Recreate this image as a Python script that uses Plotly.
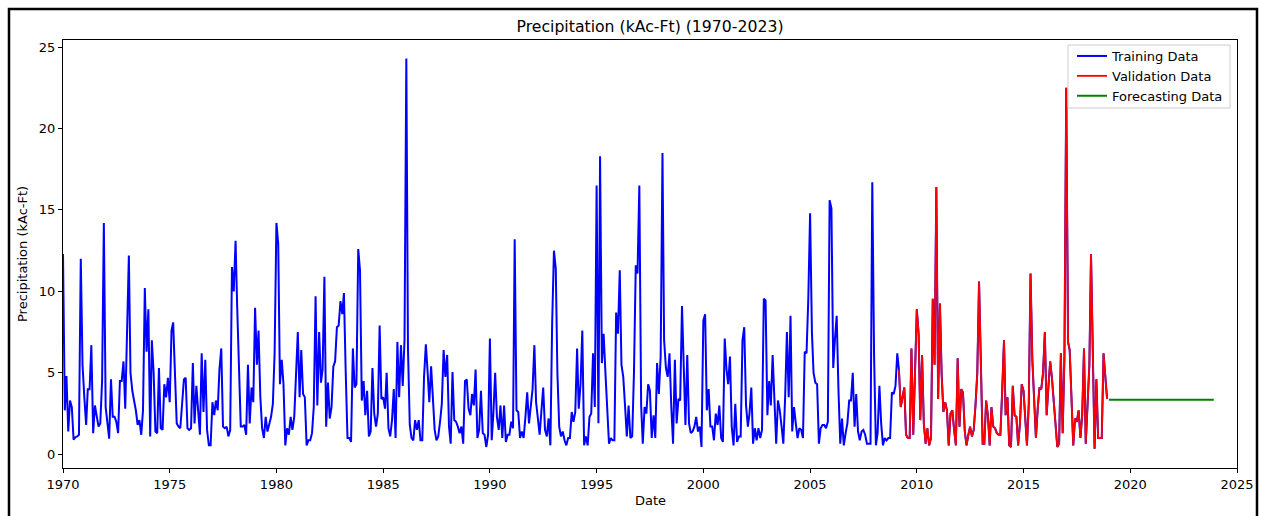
import pandas as pd
import plotly.graph_objects as go

# ---------------- data (monthly, kAc-Ft) ----------------
train_1970s = [
    12.3, 2.7, 4.8, 1.4, 3.3, 2.9, 0.9, 1.05, 1.1, 1.2, 12.0, 5.5,      # 1970
    3.5, 1.8, 4.0, 4.0, 6.7, 1.3, 3.0, 2.2, 1.7, 1.9, 4.5, 14.2,        # 1971
    2.9, 1.9, 0.96, 4.6, 2.3, 2.3, 2.0, 1.3, 4.5, 4.5, 5.7, 2.8,        # 1972
    7.0, 12.2, 5.0, 3.9, 3.3, 2.7, 1.8, 2.1, 1.2, 2.7, 10.2, 6.3,       # 1973
    8.9, 1.1, 7.0, 5.0, 1.4, 1.3, 5.3, 1.6, 1.5, 4.3, 3.5, 4.7,         # 1974
    3.2, 7.6, 8.1, 5.0, 1.9, 1.7, 1.6, 3.1, 4.6, 4.7, 1.6, 1.5,         # 1975
    1.6, 5.6, 1.9, 4.2, 2.5, 1.2, 6.2, 2.6, 5.8, 1.5, 0.55, 0.55,       # 1976
    3.2, 2.4, 3.3, 2.7, 5.2, 6.5, 1.7, 1.6, 1.7, 1.1, 1.5, 11.5,        # 1977
    10.0, 13.1, 9.0, 4.5, 1.7, 1.7, 1.8, 1.2, 5.5, 1.9, 4.1, 3.2,       # 1978
    9.0, 5.5, 7.6, 3.5, 1.6, 1.0, 2.3, 1.4, 1.9, 2.3, 3.1, 6.2,         # 1979
]
train_1980s = [
    14.2, 12.9, 4.3, 5.8, 4.3, 0.55, 1.6, 1.2, 2.3, 1.5, 2.3, 4.5,      # 1980
    7.5, 3.5, 6.4, 3.7, 3.5, 0.55, 0.86, 0.86, 1.3, 2.9, 9.7, 3.0,      # 1981
    7.5, 4.4, 5.2, 10.9, 1.7, 4.4, 2.2, 2.9, 5.4, 5.7, 7.8, 7.9,        # 1982
    9.4, 8.6, 9.9, 5.0, 1.0, 1.0, 0.76, 6.5, 4.1, 4.3, 12.6, 11.3,      # 1983
    3.3, 4.5, 2.4, 3.9, 1.1, 1.4, 5.3, 2.5, 1.7, 2.5, 7.9, 3.4,         # 1984
    3.5, 2.8, 5.0, 1.6, 1.1, 2.1, 4.0, 1.0, 6.9, 3.5, 6.7, 4.2,         # 1985
    7.0, 24.3, 6.5, 1.8, 1.0, 0.86, 2.1, 1.5, 2.1, 0.86, 0.86, 4.75,    # 1986
    6.75, 5.0, 3.2, 5.4, 3.1, 1.5, 0.86, 1.1, 2.0, 3.1, 6.4, 4.75,      # 1987
    6.1, 1.7, 0.65, 5.05, 2.1, 2.0, 1.7, 1.3, 1.7, 0.65, 4.5, 4.6,      # 1988
    2.8, 2.4, 3.7, 3.0, 5.2, 1.0, 1.5, 3.9, 1.3, 1.2, 0.45, 1.2,        # 1989
]
train_1990s = [
    7.1, 0.86, 2.5, 5.0, 2.3, 1.5, 3.0, 1.0, 3.0, 0.76, 1.2, 1.2,       # 1990
    2.0, 1.6, 13.2, 2.7, 2.6, 1.0, 1.4, 1.0, 2.3, 3.8, 1.9, 3.1,        # 1991
    4.0, 6.7, 3.2, 2.2, 1.2, 2.7, 4.1, 1.5, 1.1, 2.2, 0.55, 8.0,        # 1992
    12.5, 11.4, 5.0, 1.7, 1.1, 1.4, 0.86, 0.55, 1.0, 1.0, 2.6, 2.0,     # 1993
    2.6, 6.5, 2.8, 4.3, 7.6, 0.55, 1.1, 0.55, 2.3, 2.5, 6.2, 2.9,       # 1994
    16.5, 1.9, 18.3, 5.6, 7.4, 5.0, 2.5, 0.65, 1.0, 0.86, 0.86, 8.7,    # 1995
    7.4, 11.3, 5.5, 4.75, 3.0, 1.1, 3.0, 1.0, 1.1, 5.0, 11.6, 11.1,     # 1996
    16.5, 3.0, 0.65, 2.9, 2.5, 4.3, 3.9, 1.0, 2.4, 1.0, 5.6, 3.7,       # 1997
    6.0, 18.5, 7.0, 5.3, 4.75, 6.2, 3.0, 0.65, 5.8, 1.9, 3.4, 3.3,      # 1998
    9.1, 5.0, 1.8, 6.1, 1.9, 1.3, 1.4, 1.7, 2.3, 1.4, 1.7, 0.45,        # 1999
]
train_2000s = [
    8.2, 8.6, 2.7, 4.0, 1.7, 1.7, 0.86, 2.5, 1.8, 3.0, 1.0, 0.76,       # 2000
    7.1, 5.2, 4.3, 6.0, 1.7, 0.55, 3.1, 0.76, 1.1, 1.1, 7.0, 7.8,       # 2001
    3.0, 1.7, 2.5, 4.1, 0.65, 1.6, 0.86, 1.6, 1.0, 1.5, 9.55, 9.45,     # 2002
    2.4, 4.5, 3.0, 6.1, 3.0, 0.65, 3.3, 2.7, 1.7, 0.65, 3.5, 7.5,       # 2003
    3.5, 8.5, 1.4, 2.9, 1.9, 1.0, 1.6, 1.5, 1.0, 6.3, 6.2, 9.5,         # 2004
    14.8, 7.5, 5.0, 4.4, 4.3, 0.65, 1.6, 1.8, 1.8, 1.6, 2.0, 15.6,      # 2005
    15.1, 5.3, 7.0, 8.5, 4.0, 0.65, 2.2, 0.55, 1.3, 1.9, 3.3, 3.3,      # 2006
    5.0, 1.7, 3.7, 1.4, 0.86, 1.4, 1.5, 1.2, 0.65, 0.65, 0.65, 16.7,    # 2007
    6.0, 0.55, 1.3, 4.2, 1.9, 0.55, 1.0, 0.86, 1.0, 1.0, 3.8, 3.7,      # 2008
    4.2, 6.2,                                                           # 2009 Jan-Feb
]
valid_values = [
    5.2, 2.9, 3.5, 4.1, 1.2, 1.0, 1.0, 6.5, 1.2, 5.0,                   # 2009 Mar-Dec
    8.9, 7.4, 2.1, 6.1, 1.9, 0.65, 1.6, 0.55, 1.0, 9.55, 5.5, 16.4,     # 2010
    3.4, 9.25, 5.0, 2.6, 3.2, 2.7, 0.55, 2.5, 2.7, 1.5, 0.55, 5.9,      # 2011
    1.7, 4.0, 3.8, 1.4, 0.55, 1.2, 1.7, 1.1, 1.5, 3.0, 5.0, 10.6,       # 2012
    5.0, 0.65, 0.65, 3.3, 2.4, 0.55, 2.9, 1.7, 1.6, 1.3, 1.2, 1.2,      # 2013
    3.9, 7.0, 2.4, 3.5, 0.55, 0.45, 4.2, 2.4, 2.3, 0.55, 1.9, 4.3,      # 2014
    3.9, 1.9, 0.55, 3.1, 11.1, 5.8, 3.1, 1.0, 2.8, 4.1, 4.0, 5.0,       # 2015
    7.5, 2.4, 4.1, 5.7, 4.7, 3.3, 1.9, 0.45, 0.65, 6.2, 1.3, 6.0,       # 2016
    22.5, 6.9, 6.4, 3.1, 0.55, 2.2, 2.0, 2.7, 1.0, 2.4, 6.5, 0.65,      # 2017
    3.7, 5.5, 12.3, 5.5, 0.35, 4.6, 1.0, 1.0, 1.0, 6.2, 5.0, 3.4,       # 2018
]
forecast_values = [
    3.35, 3.35, 3.35, 3.35, 3.35, 3.35, 3.35, 3.35, 3.35, 3.35, 3.35, 3.35,  # 2019
    3.35, 3.35, 3.35, 3.35, 3.35, 3.35, 3.35, 3.35, 3.35, 3.35, 3.35, 3.35,  # 2020
    3.35, 3.35, 3.35, 3.35, 3.35, 3.35, 3.35, 3.35, 3.35, 3.35, 3.35, 3.35,  # 2021
    3.35, 3.35, 3.35, 3.35, 3.35, 3.35, 3.35, 3.35, 3.35, 3.35, 3.35, 3.35,  # 2022
    3.35, 3.35, 3.35, 3.35, 3.35, 3.35, 3.35, 3.35, 3.35, 3.35, 3.35, 3.35,  # 2023
]
train_start = "1970-01-01"
valid_start = "2009-03-01"
forecast_start = "2019-01-01"
x_tick_years = [1970, 1975, 1980, 1985, 1990, 1995, 2000, 2005, 2010, 2015, 2020, 2025]
y_ticks = [0, 5, 10, 15, 20, 25]

# ---------------- build ----------------
train_values = train_1970s + train_1980s + train_1990s + train_2000s
all_values = train_values + valid_values
all_dates = pd.date_range(train_start, periods=len(all_values), freq="MS")
valid_dates = pd.date_range(valid_start, periods=len(valid_values), freq="MS")
fc_dates = pd.date_range(forecast_start, periods=len(forecast_values), freq="MS")

FONT = "DejaVu Sans"
FS = 13
fig = go.Figure()
fig.add_trace(go.Scatter(x=all_dates, y=all_values, mode="lines", name="Training Data",
                         line=dict(color="#0000ff", width=2)))
fig.add_trace(go.Scatter(x=valid_dates, y=valid_values, mode="lines", name="Validation Data",
                         line=dict(color="#ff0000", width=1.8)))
fig.add_trace(go.Scatter(x=fc_dates, y=forecast_values, mode="lines", name="Forecasting Data",
                         line=dict(color="#008000", width=2)))

L, R, T, B = 63, 25, 40, 48
W, H = 1262, 516
pw, ph = W - L - R, H - T - B

def px_to_paper_x(px):
    return (px - L) / pw

def px_to_paper_y(py):
    return (H - B - py) / ph

axis_common = dict(showline=True, linecolor="black", linewidth=1, mirror=True,
                   ticks="outside", ticklen=4, tickwidth=1, tickcolor="black",
                   showgrid=False, zeroline=False, automargin=False,
                   tickfont=dict(family=FONT, size=FS, color="black"))

fig.update_layout(
    width=W, height=H,
    margin=dict(l=L, r=R, t=T, b=B, autoexpand=False),
    paper_bgcolor="white", plot_bgcolor="white",
    font=dict(family=FONT, size=FS, color="black"),
    title=dict(text="Precipitation (kAc-Ft) (1970-2023)", x=0.5, xref="paper",
               y=1 - 27 / H, yanchor="middle", xanchor="center",
               font=dict(family=FONT, size=15.7, color="black")),
    xaxis=dict(type="date", range=["1970-01-01", "2025-01-01"],
               tickvals=[f"{y}-01-01" for y in x_tick_years],
               ticktext=[str(y) for y in x_tick_years], **axis_common),
    yaxis=dict(range=[-0.84, 25.43], tickvals=y_ticks,
               ticktext=[str(v) for v in y_ticks], **axis_common),
    legend=dict(x=px_to_paper_x(1228), y=px_to_paper_y(41), xanchor="right", yanchor="top",
                bgcolor="rgba(0,0,0,0)", borderwidth=0,
                font=dict(family=FONT, size=FS, color="black"), itemwidth=30,
                tracegroupgap=0),
    showlegend=True,
    annotations=[
        dict(text="Date", x=0.5, y=px_to_paper_y(501), xref="paper", yref="paper",
             showarrow=False, xanchor="center", yanchor="middle",
             font=dict(family=FONT, size=FS, color="black")),
        dict(text="Precipitation (kAc-Ft)", x=px_to_paper_x(22), y=px_to_paper_y(254),
             xref="paper", yref="paper", showarrow=False, textangle=-90,
             xanchor="center", yanchor="middle",
             font=dict(family=FONT, size=FS, color="black")),
    ],
    shapes=[
        # legend frame
        dict(type="rect", xref="paper", yref="paper", layer="above",
             x0=px_to_paper_x(1068), x1=px_to_paper_x(1230),
             y0=px_to_paper_y(108), y1=px_to_paper_y(45),
             line=dict(color="#cccccc", width=1), fillcolor="rgba(255,255,255,0.8)"),
        # outer figure frame
        dict(type="rect", xref="paper", yref="paper",
             x0=px_to_paper_x(9), x1=px_to_paper_x(1257),
             y0=px_to_paper_y(530), y1=px_to_paper_y(9),
             line=dict(color="black", width=2.5), fillcolor="rgba(0,0,0,0)"),
    ],
)

fig.write_html("out.html")
